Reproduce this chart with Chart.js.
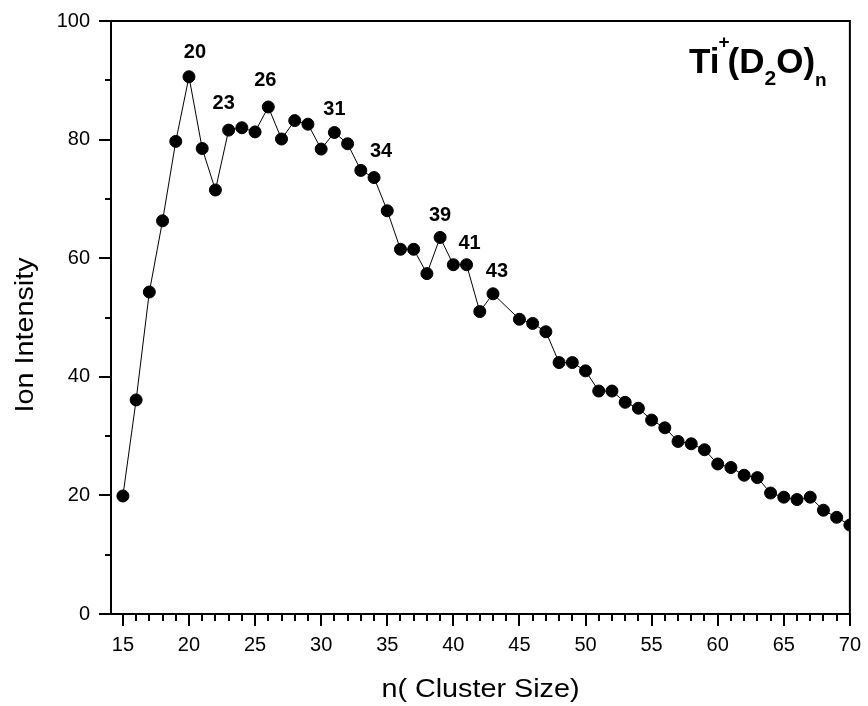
<!DOCTYPE html>
<html>
<head>
<meta charset="utf-8">
<script src="https://cdn.jsdelivr.net/npm/chart.js@4.4.1/dist/chart.umd.min.js"></script>
<style>
  html, body { margin: 0; background: #fff; }
  canvas { display: block; }
</style>
</head>
<body>
<canvas id="chart" width="868" height="706"></canvas>
<script>
// cluster sizes (n = 44 is not in the spectrum)
const clusterSize = [15, 16, 17, 18, 19, 20, 21, 22, 23, 24, 25, 26, 27, 28, 29, 30,
  31, 32, 33, 34, 35, 36, 37, 38, 39, 40, 41, 42, 43, 45, 46, 47, 48, 49, 50,
  51, 52, 53, 54, 55, 56, 57, 58, 59, 60, 61, 62, 63, 64, 65, 66, 67, 68, 69, 70];
const intensity = [19.9, 36.1, 54.3, 66.3, 79.7, 90.6, 78.5, 71.5, 81.6, 82.0, 81.3, 85.5, 80.1, 83.2, 82.6, 78.4,
  81.2, 79.3, 74.8, 73.6, 68.0, 61.5, 61.5, 57.4, 63.5, 58.9, 58.9, 51.0, 54.0, 49.7, 49.0, 47.6, 42.4, 42.4, 41.0,
  37.6, 37.6, 35.7, 34.7, 32.7, 31.4, 29.1, 28.7, 27.7, 25.3, 24.7, 23.4, 23.0, 20.4, 19.7, 19.3, 19.7, 17.5, 16.3, 15.0];
const peakLabels = [20, 23, 26, 31, 34, 39, 41, 43];
const xTicks = [15, 20, 25, 30, 35, 40, 45, 50, 55, 60, 65, 70];
const yTicks = [0, 20, 40, 60, 80, 100];

// small offsets of the peak numbers from their points, px
const labelNudge = [[6, -24], [-5, -27], [-3, -27], [0, -23], [7, -26], [0, -22], [3, -21], [4, -22]];

const FONT = "'Liberation Sans', Arial, sans-serif";

function wideText(ctx, text, x, y, stretch) {
  ctx.save();
  ctx.translate(x, y);
  ctx.scale(stretch, 1);
  ctx.fillText(text, 0, 0);
  ctx.restore();
}

const decor = {
  id: "decor",
  beforeDraw(chart) {
    const ctx = chart.ctx;
    ctx.save();
    ctx.fillStyle = "#fff";
    ctx.fillRect(0, 0, chart.width, chart.height);
    ctx.restore();
  },
  afterDraw(chart) {
    const { ctx, chartArea: a, scales: { x, y } } = chart;
    ctx.save();
    ctx.strokeStyle = "#000";
    ctx.lineWidth = 2;
    ctx.strokeRect(a.left, a.top, a.right - a.left, a.bottom - a.top);

    // tick marks, outward; major 12px, minor 7px
    ctx.beginPath();
    for (let n = Math.ceil(x.min); n <= x.max; n++) {
      const px = Math.round(x.getPixelForValue(n));
      ctx.moveTo(px, a.bottom);
      ctx.lineTo(px, a.bottom + (xTicks.includes(n) ? 12 : 7));
    }
    for (let v = 0; v <= 100; v += 10) {
      const py = Math.round(y.getPixelForValue(v));
      ctx.moveTo(a.left, py);
      ctx.lineTo(a.left - (yTicks.includes(v) ? 12 : 6), py);
    }
    ctx.stroke();

    // peak numbers
    const pts = chart.getDatasetMeta(0).data;
    ctx.fillStyle = "#000";
    ctx.font = "bold 20px " + FONT;
    ctx.textAlign = "center";
    ctx.textBaseline = "middle";
    peakLabels.forEach((n, k) => {
      const p = pts[clusterSize.indexOf(n)];
      ctx.fillText(String(n), p.x + labelNudge[k][0], p.y + labelNudge[k][1]);
    });

    // Ti+(D2O)n
    ctx.textAlign = "left";
    ctx.textBaseline = "alphabetic";
    const runs = [
      { t: "Ti", size: 35, dx: 0, dy: 0 },
      { t: "+", size: 19, dx: -1, dy: -25 },
      { t: "(D", size: 35, dx: -2, dy: 0 },
      { t: "2", size: 21, dx: 0, dy: 12 },
      { t: "O)", size: 35, dx: 0, dy: 0 },
      { t: "n", size: 19, dx: 0, dy: 13 }
    ];
    let tx = 689;
    runs.forEach(r => {
      ctx.font = "bold " + r.size + "px " + FONT;
      tx += r.dx;
      ctx.fillText(r.t, tx, 73 + r.dy);
      tx += ctx.measureText(r.t).width;
    });

    // axis titles
    ctx.font = "25px " + FONT;
    ctx.textAlign = "center";
    wideText(ctx, "n( Cluster Size)", (a.left + a.right) / 2, 697, 1.15);
    ctx.save();
    ctx.translate(33, 335);
    ctx.rotate(-Math.PI / 2);
    wideText(ctx, "Ion Intensity", 0, 0, 1.15);
    ctx.restore();
    ctx.restore();
  }
};

const hidden = "rgba(0,0,0,0)";

new Chart(document.getElementById("chart"), {
  type: "scatter",
  data: {
    datasets: [{
      data: clusterSize.map((n, i) => ({ x: n, y: intensity[i] })),
      showLine: true,
      borderColor: "#000",
      borderWidth: 1,
      pointRadius: 6,
      pointBorderWidth: 1,
      pointBackgroundColor: "#000",
      pointBorderColor: "#000"
    }]
  },
  options: {
    responsive: false,
    animation: false,
    devicePixelRatio: 1,
    layout: { padding: { top: 19, right: 17, left: 0, bottom: 0 } },
    plugins: { legend: { display: false }, tooltip: { enabled: false } },
    scales: {
      x: {
        type: "linear",
        min: 14.1,
        max: 70,
        afterBuildTicks: s => { s.ticks = xTicks.map(v => ({ value: v })); },
        afterFit: s => { s.height = 92; },
        grid: { drawOnChartArea: false, drawTicks: true, tickLength: 12, color: hidden },
        border: { display: false },
        ticks: { font: { family: FONT, size: 20 }, color: "#000", padding: 7, maxRotation: 0, autoSkip: false }
      },
      y: {
        min: 0,
        max: 100,
        afterBuildTicks: s => { s.ticks = yTicks.map(v => ({ value: v })); },
        afterFit: s => { s.width = 111; },
        grid: { drawOnChartArea: false, drawTicks: true, tickLength: 12, color: hidden },
        border: { display: false },
        ticks: { font: { family: FONT, size: 20 }, color: "#000", padding: 9 }
      }
    }
  },
  plugins: [decor]
});
</script>
</body>
</html>
